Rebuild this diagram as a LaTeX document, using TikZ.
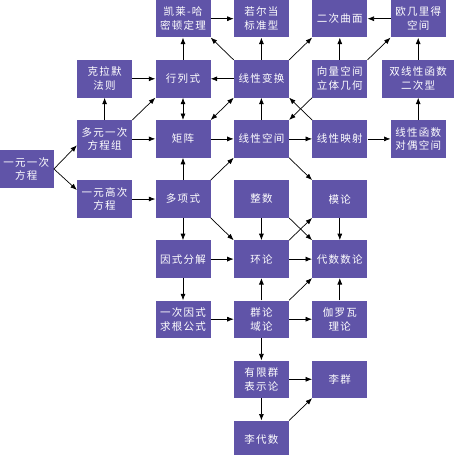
\documentclass[tikz,border=0pt]{standalone}
\usepackage{fontspec}
\newfontfamily\cjk[LetterSpace=12]{Noto Sans CJK SC}
\usetikzlibrary{arrows.meta,positioning,calc}
\definecolor{boxblue}{RGB}{96,84,168}

\begin{document}
\begin{tikzpicture}[node distance=22.3pt and 23pt,>={Latex[length=6.5pt,width=5pt]},
  box/.style={fill=boxblue,text=white,minimum width=55pt,minimum height=37.4pt,inner xsep=2pt,
    align=center,font=\cjk\fontsize{10.5}{13.7}\selectfont},
  link/.style={line width=.7pt}]
\useasboundingbox (0,0) rectangle (453pt,-455pt);
\node[box] (cayley) at (183pt,-18.7pt) {凯莱-哈\\密顿定理};
\node[box,right=of cayley] (jordan) {若尔当\\标准型};
\node[box,right=of jordan] (quadric) {二次曲面};
\node[box,right=of quadric] (euclid) {欧几里得\\空间};
\node[box,below=of cayley] (det) {行列式};
\node[box,left=of det] (cramer) {克拉默\\法则};
\node[box,right=of det] (lintrans) {线性变换};
\node[box,right=of lintrans] (vecgeo) {向量空间\\立体几何};
\node[box,below=of euclid,minimum width=72.7pt] (bilin) {双线性函数\\二次型};
\node[box,below=of det] (mat) {矩阵};
\node[box,below=of cramer] (lineqs) {多元一次\\方程组};
\node[box,below=of lintrans] (linsp) {线性空间};
\node[box,below=of vecgeo] (linmap) {线性映射};
\node[box,below=of bilin] (dual) {线性函数\\对偶空间};
\node[box,below=of mat] (poly) {多项式};
\node[box,below=of lineqs] (higheq) {一元高次\\方程};
\node[box,below=of linsp] (integer) {整数};
\node[box,below=of linmap] (module) {模论};
\coordinate (mid) at ($(lineqs.west)!.5!(higheq.west)$);
\node[box,left=of mid] (lineq1) {一元一次\\方程};
\node[box,below=of poly] (factor) {因式分解};
\node[box,below=of integer] (ring) {环论};
\node[box,below=of module] (algnt) {代数数论};
\node[box,below=of factor] (roots) {一次因式\\求根公式};
\node[box,below=of ring] (groupfield) {群论\\域论};
\node[box,below=of algnt] (galois) {伽罗瓦\\理论};
\node[box,below=of groupfield] (rep) {有限群\\表示论};
\node[box,below=of galois] (liegrp) {李群};
\node[box,below=of rep] (liealg) {李代数};
\draw[->,link] (lineq1.east) -- (lineqs.193);
\draw[->,link] (lineq1.east) -- (higheq.162);
\draw[->,link] (lineqs) -- (cramer);
\draw[->,link] (lineqs.north east) -- (det.south west);
\draw[->,link] (lineqs) -- (mat);
\draw[->,link] (cramer) -- (det);
\draw[->,link] (higheq) -- (poly);
\draw[->,link] (det) -- (cayley);
\draw[<->,link] (det) -- (mat);
\draw[->,link] (poly) -- (mat);
\draw[->,link] (cayley) -- (jordan);
\draw[->,link] (lintrans.north west) -- (cayley.south east);
\draw[->,link] (lintrans) -- (jordan);
\draw[->,link] (lintrans) -- (det);
\draw[->,link] (lintrans.north east) -- (quadric.south west);
\draw[->,link] (vecgeo) -- (quadric);
\draw[->,link] (vecgeo.north east) -- (euclid.south west);
\draw[->,link] (euclid) -- (quadric);
\draw[->,link] (bilin) -- (euclid);
\draw[->,link] (dual) -- (bilin);
\draw[->,link] (linmap) -- (dual);
\draw[->,link] (linsp) -- (linmap);
\draw[->,link] (linsp) -- (lintrans);
\draw[->,link] (linmap.north west) -- (lintrans.south east);
\draw[->,link] (vecgeo.south west) -- (linsp.north east);
\draw[<->,link] (mat.north east) -- (lintrans.south west);
\draw[->,link] (mat) -- (linsp);
\draw[->,link] (poly.north east) -- (linsp.south west);
\draw[->,link] (linsp.south east) -- (module.north west);
\draw[->,link] (poly) -- (factor);
\draw[->,link] (poly.south east) -- (ring.north west);
\draw[->,link] (factor) -- (ring);
\draw[->,link] (factor) -- (roots);
\draw[->,link] (roots) -- (groupfield);
\draw[->,link] (integer) -- (ring);
\draw[->,link] (integer.south east) -- (algnt.north west);
\draw[->,link] (ring.north east) -- (module.south west);
\draw[->,link] (module) -- (algnt);
\draw[->,link] (ring) -- (algnt);
\draw[->,link] (groupfield) -- (ring);
\draw[->,link] (groupfield.north east) -- (algnt.south west);
\draw[->,link] (galois) -- (algnt);
\draw[->,link] (groupfield) -- (galois);
\draw[->,link] (groupfield) -- (rep);
\draw[->,link] (rep) -- (liegrp);
\draw[->,link] (rep) -- (liealg);
\draw[->,link] (liealg.north east) -- (liegrp.south west);
\end{tikzpicture}
\end{document}
